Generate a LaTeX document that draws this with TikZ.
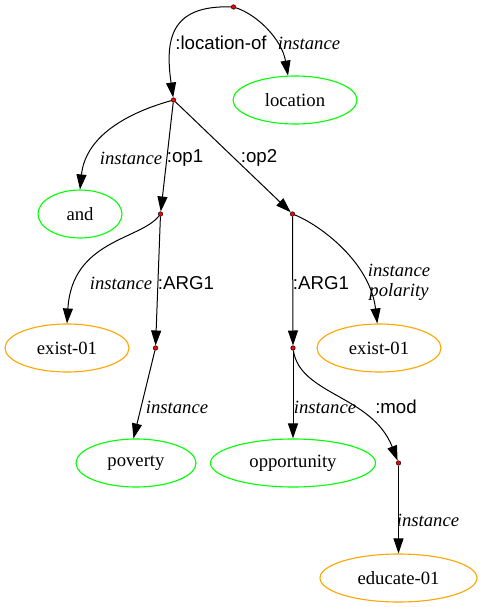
\documentclass[tikz,border=0pt]{standalone}
\usepackage{fontspec}
\setmainfont{Liberation Serif}
\newfontfamily\lblsans{Liberation Sans}
\usetikzlibrary{shapes.geometric,arrows.meta}
\tikzset{
  concept/.style={ellipse,draw,line width=1.1pt,inner sep=0pt,minimum height=48pt,
     font=\fontsize{18.67}{22}\selectfont},
  gconcept/.style={concept,draw={rgb,255:red,0;green,255;blue,0}},
  oconcept/.style={concept,draw={rgb,255:red,255;green,165;blue,0}},
  vdot/.style={circle,draw=black,line width=0.5pt,fill=red,inner sep=0pt,minimum size=4.5pt},
  rel/.style={line width=1pt,-{Triangle[length=15pt,width=10pt]}},
  ilbl/.style={font=\fontsize{18.67}{22}\selectfont\itshape,inner sep=0pt,align=center},
  slbl/.style={font=\fontsize{18.67}{22}\selectfont\lblsans,inner sep=0pt},
}
\begin{document}
\begin{tikzpicture}[x=1pt,y=-1pt]
\useasboundingbox (0,0) rectangle (481,607);
% variable dots
\node[vdot] (t) at (233.5,7) {};
\node[vdot] (a) at (173.5,100) {};
\node[vdot] (o1) at (160.5,214) {};
\node[vdot] (o2) at (292.5,214) {};
\node[vdot] (r1) at (155.5,348) {};
\node[vdot] (r2) at (293,348) {};
\node[vdot] (md) at (398.5,463) {};
% concepts
\node[gconcept,minimum width=124pt] (loc) at (295,100) {location};
\node[gconcept,minimum width=84pt] (and) at (80,214) {and};
\node[oconcept,minimum width=124pt] (ex1) at (67,348) {exist-01};
\node[oconcept,minimum width=124pt] (ex2) at (379,348) {exist-01};
\node[gconcept,minimum width=120pt] (pov) at (136,463) {poverty};
\node[gconcept,minimum width=165pt] (opp) at (293,463) {opportunity};
\node[oconcept,minimum width=157pt] (edu) at (398.5,578) {educate-01};
% edges
\draw[rel] (t) .. controls (170,5) and (165,40) .. (a);
\draw[rel] (t) .. controls (258,15) and (282,40) .. (loc.106);
\draw[rel] (a) .. controls (120,115) and (85,140) .. (and.north);
\draw[rel] (a) -- (o1);
\draw[rel] (a) -- (o2);
\draw[rel] (o1) .. controls (140,240) and (72,240) .. (ex1.north);
\draw[rel] (o1) -- (r1);
\draw[rel] (r1) -- (pov.96);
\draw[rel] (o2) .. controls (320,225) and (370,262) .. (ex2.94);
\draw[rel] (o2) -- (r2);
\draw[rel] (r2) -- (opp.north);
\draw[rel] (r2) .. controls (300,395) and (372,395) .. (md);
\draw[rel] (md) -- (edu.north);
% labels
\node[slbl] (l1) at (221,43) {:location-of};
\node[ilbl] (l2) at (309,43) {instance};
\node[ilbl] (l3) at (131,158) {instance};
\node[slbl] (l4) at (185,158) {:op1};
\node[slbl] (l5) at (259,158) {:op2};
\node[ilbl] (l6) at (121,283) {instance};
\node[slbl] (l7) at (186,283) {:ARG1};
\node[slbl] (l8) at (321,283) {:ARG1};
\node[ilbl] (l9) at (399,282) {instance\\[-2pt]polarity};
\node[ilbl] (l10) at (177,407) {instance};
\node[ilbl] (l11) at (325,407) {instance};
\node[slbl] (l12) at (396,407) {:mod};
\node[ilbl] (l13) at (428,520) {instance};
\end{tikzpicture}
\end{document}
